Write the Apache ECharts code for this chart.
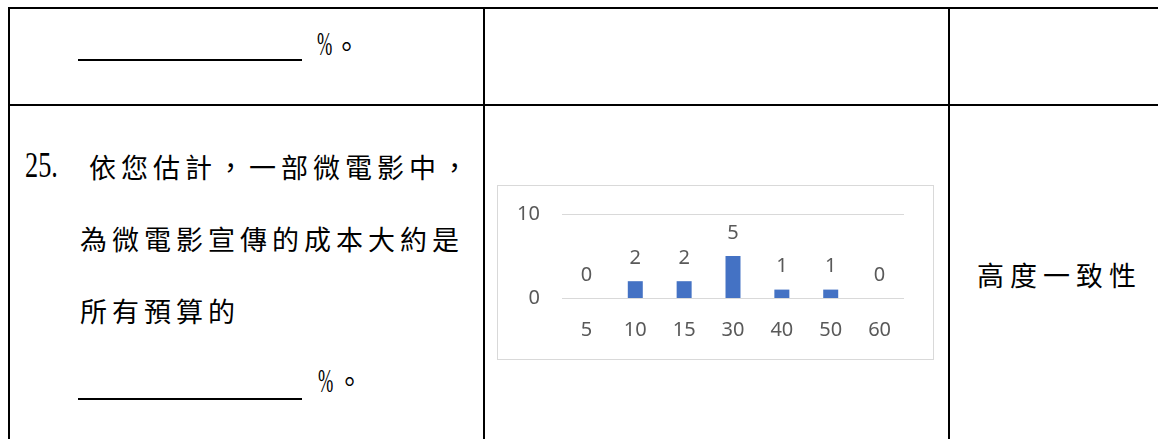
<!DOCTYPE html>
<html>
<head>
<meta charset="utf-8">
<script src="https://cdn.jsdelivr.net/npm/echarts@6/dist/echarts.min.js"></script>
<style>
  html, body { margin: 0; padding: 0; background: #fff; }
  body { width: 1158px; height: 439px; position: relative; overflow: hidden; }
  .hl, .vl { position: absolute; background: #000; }
  .t { position: absolute; white-space: nowrap; font-family: "Noto Sans CJK TC", sans-serif; font-size: 27px; line-height: 27px; color: #000; letter-spacing: 5px; }
  .num { position: absolute; white-space: nowrap; font-family: "Liberation Serif", serif; font-size: 36px; line-height: 36px; color: #000; transform: scaleX(0.73); transform-origin: 0 0; }
  .pct { position: absolute; white-space: nowrap; font-family: "Liberation Serif", serif; font-size: 34px; line-height: 34px; color: #000; transform: scaleX(0.54); transform-origin: 0 0; }
  #wrap { position: absolute; left: 497px; top: 185px; width: 437px; height: 175px; box-sizing: border-box; border: 1px solid #d9d9d9; }
  #chart { width: 435px; height: 173px; }
</style>
</head>
<body>
<!-- table lines -->
<div class="hl" style="left:8px; top:7px; width:1150px; height:2px;"></div>
<div class="hl" style="left:8px; top:104px; width:1150px; height:2px;"></div>
<div class="vl" style="left:8px; top:7px; width:2px; height:432px;"></div>
<div class="vl" style="left:483px; top:7px; width:2px; height:432px;"></div>
<div class="vl" style="left:948px; top:7px; width:2px; height:432px;"></div>

<!-- row 1 -->
<div class="hl" style="left:78px; top:59px; width:224px; height:2px;"></div>
<div class="pct" style="left:317px; top:27px;">%</div>
<div class="t" style="left:333px; top:32px;">。</div>

<!-- row 2 -->
<div class="num" style="left:25px; top:147px;">25.</div>
<div class="t" style="left:89px; top:153px;">依您估計，一部微電影中，</div>
<div class="t" style="left:80px; top:225px;">為微電影宣傳的成本大約是</div>
<div class="t" style="left:80px; top:297px;">所有預算的</div>
<div class="hl" style="left:78px; top:398px; width:224px; height:2px;"></div>
<div class="pct" style="left:318px; top:364px;">%</div>
<div class="t" style="left:336px; top:367px;">。</div>

<div class="t" style="left:977px; top:261px; letter-spacing:6px;">高度一致性</div>

<div id="wrap"><div id="chart"></div></div>

<script>
var categories = ['5', '10', '15', '30', '40', '50', '60'];
var counts = [0, 2, 2, 5, 1, 1, 0];
var yMin = 0, yMax = 10, yStep = 10;

var chart = echarts.init(document.getElementById('chart'), null, { renderer: 'canvas' });
var labelFont = { color: '#595959', fontSize: 20, fontFamily: '"Noto Sans", sans-serif' };
chart.setOption({
  animation: false,
  grid: { left: 64, right: 29, top: 28, bottom: 61, containLabel: false, outerBoundsMode: 'none' },
  xAxis: {
    type: 'category',
    data: categories,
    axisLine: { show: false },
    axisTick: { show: false },
    axisLabel: Object.assign({ margin: 22 }, labelFont)
  },
  yAxis: {
    type: 'value',
    min: yMin, max: yMax, interval: yStep,
    axisLine: { show: false },
    axisTick: { show: false },
    splitLine: { show: true, lineStyle: { color: '#d9d9d9', width: 1 } },
    axisLabel: Object.assign({ margin: 22 }, labelFont)
  },
  series: [{
    type: 'bar',
    data: counts,
    barWidth: 15,
    itemStyle: { color: '#4472C4' },
    label: Object.assign({ show: true, position: 'top', distance: 13 }, labelFont)
  }]
});
</script>
</body>
</html>
